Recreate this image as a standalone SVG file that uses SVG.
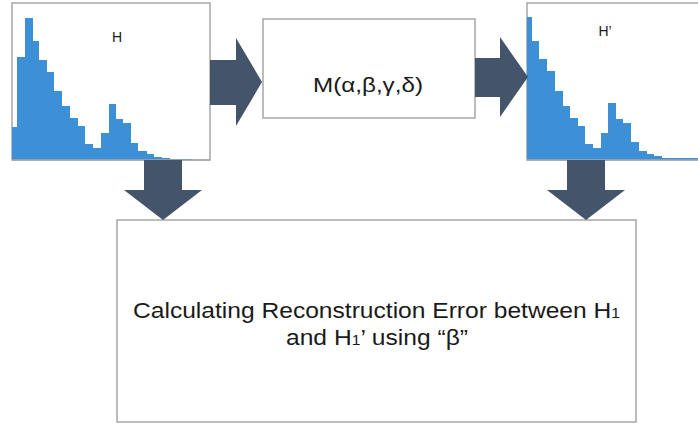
<svg xmlns="http://www.w3.org/2000/svg" width="698" height="425" viewBox="0 0 698 425">
  <style>
    .box { fill: #ffffff; stroke: #a6a6a6; stroke-width: 1.5; }
    .bars { fill: #3d8fd6; stroke: none; }
    .arrow { fill: #44546a; stroke: none; }
    .lbl { font-family: "Liberation Sans", Arial, sans-serif; fill: #1a1a1a; text-anchor: middle; }
  </style>
  <rect x="0" y="0" width="698" height="425" fill="#ffffff"/>

  <g id="node-H">
    <rect class="box" x="12" y="3" width="198" height="157"/>
    <path class="bars" d="M12,160 V127 H17 V57 H25 V18 H33 V41 H39 V60 H47 V72 H54 V91 H62 V106 H70 V118 H78 V126 H85 V144 H93 V148 H101 V133 H109 V104 H116 V119 H123 V123 H131 V143 H138 V151 H147 V154 H154 V157 H162 V158 H170 V159 H192 V160 Z"/>
    <line x1="12" y1="160" x2="210" y2="160" stroke="#a6a6a6" stroke-width="1.5"/>
    <text class="lbl" x="117" y="42" font-size="14">H</text>
  </g>

  <g id="node-M">
    <rect class="box" x="263" y="19" width="212" height="99"/>
    <text class="lbl" x="368" y="92" font-size="21" textLength="110" lengthAdjust="spacingAndGlyphs">M(α,β,γ,δ)</text>
  </g>

  <g id="node-H2">
    <rect class="box" x="527" y="3" width="175" height="157"/>
    <path class="bars" d="M527,160 V17 H532 V41 H539 V59 H547 V71 H555 V91 H563 V106 H570 V118 H578 V126 H585 V144 H593 V148 H601 V133 H608 V103 H616 V119 H623 V123 H631 V142 H639 V151 H647 V154 H654 V156 H662 V158 H698 V160 Z"/>
    <line x1="527" y1="160" x2="698" y2="160" stroke="#a6a6a6" stroke-width="1.5"/>
    <text class="lbl" x="605" y="36" font-size="14">H’</text>
  </g>

  <g id="node-error">
    <rect class="box" x="117" y="220" width="519" height="202"/>
    <text class="lbl" x="376.5" y="318" font-size="22" textLength="487" lengthAdjust="spacingAndGlyphs">Calculating Reconstruction Error between H<tspan font-size="14">1</tspan></text>
    <text class="lbl" x="377" y="345" font-size="22" textLength="182" lengthAdjust="spacingAndGlyphs">and H<tspan font-size="14">1</tspan>’ using “β”</text>
  </g>

  <g id="connectors">
    <polygon class="arrow" points="210,60 236,60 236,38 262,82 236,126 236,105 210,105"/>
    <polygon class="arrow" points="475,58 500,58 500,37 528,77 500,117 500,97 475,97"/>
    <polygon class="arrow" points="144,160 182,160 182,190 202,190 163,220 124,190 144,190"/>
    <polygon class="arrow" points="567,160 605,160 605,190 625,190 586,220 547,190 567,190"/>
  </g>
</svg>
